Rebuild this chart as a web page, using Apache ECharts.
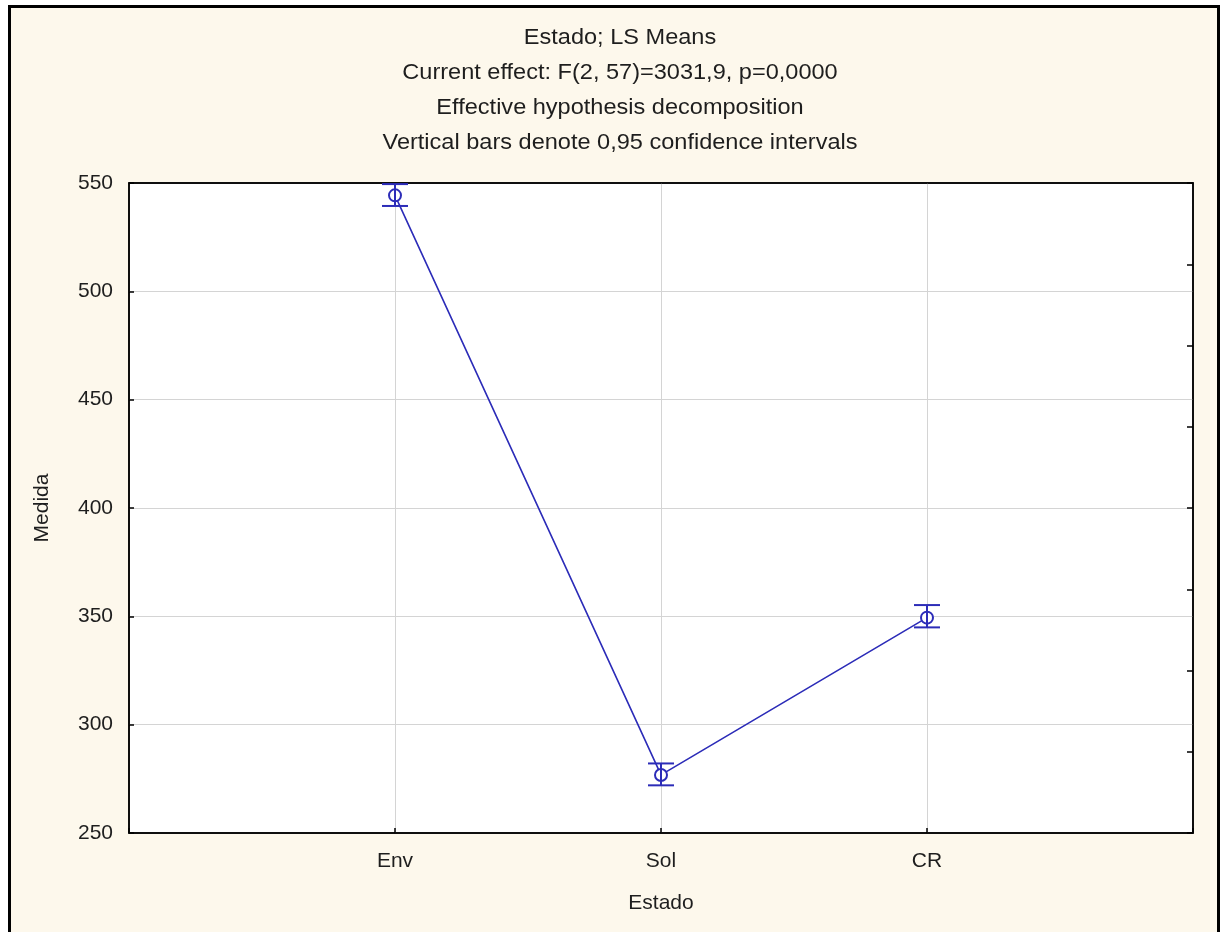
<!DOCTYPE html>
<html>
<head>
<meta charset="utf-8">
<script src="https://cdn.jsdelivr.net/npm/echarts@6/dist/echarts.min.js"></script>
<style>
html,body{margin:0;padding:0;background:#fff;}
#chart{width:1221px;height:932px;}
</style>
</head>
<body>
<div id="chart"></div>
<script>
// Data
const categories = ['Env', 'Sol', 'CR'];
const means = [544.3, 276.8, 349.4];
const lowerCI = [539.4, 272.0, 344.9];
const upperCI = [549.5, 282.1, 355.2];
const titleLines = [
  'Estado; LS Means',
  'Current effect: F(2, 57)=3031,9, p=0,0000',
  'Effective hypothesis decomposition',
  'Vertical bars denote 0,95 confidence intervals'
];
const yTicks = {min: 250, max: 550, interval: 50};

const lineColor = '#2c2cb8';
const textColor = '#1e1e1e';
const fontFam = '"Liberation Sans", Arial, sans-serif';

const chart = echarts.init(document.getElementById('chart'), null, {renderer: 'canvas'});

const meanData = means.map((m, i) => [i + 1, m]);
const ciData = means.map((m, i) => [i + 1, lowerCI[i], upperCI[i]]);

const option = {
  animation: false,
  backgroundColor: 'transparent',
  graphic: [
    {
      type: 'rect', z: -100, silent: true,
      shape: {x: 9.5, y: 6.5, width: 1209, height: 960},
      style: {fill: '#fdf8ec', stroke: '#000', lineWidth: 3}
    },
    {
      type: 'text', z: 10, silent: true,
      x: 620, y: 20, scaleX: 1.07,
      style: {
        text: titleLines.join('\n'),
        fontSize: 22, lineHeight: 35, fontFamily: fontFam,
        fill: textColor, align: 'center', textAlign: 'center'
      }
    }
  ],
  grid: {
    left: 129, right: 28, top: 183, bottom: 99,
    show: true, backgroundColor: '#ffffff', borderColor: '#000', borderWidth: 1.5
  },
  xAxis: [
    {
      type: 'value', min: 0, max: 4, interval: 1, position: 'bottom',
      name: 'Estado', nameLocation: 'middle', nameGap: 60,
      nameTextStyle: {fontSize: 21, color: textColor, fontFamily: fontFam},
      axisLine: {show: true, onZero: false, lineStyle: {color: '#000', width: 1.5}},
      axisTick: {show: true, inside: true, length: 5, lineStyle: {color: '#000', width: 1.5}},
      axisLabel: {
        margin: 18, fontSize: 21, color: textColor, fontFamily: fontFam,
        formatter: v => (v >= 1 && v <= categories.length) ? categories[v - 1] : ''
      },
      splitLine: {show: true, showMinLine: false, showMaxLine: false, lineStyle: {color: '#d4d4d4', width: 1}}
    },
    {
      type: 'value', min: 0, max: 4, position: 'top',
      axisLine: {show: true, onZero: false, lineStyle: {color: '#000', width: 1.5}},
      axisTick: {show: false}, axisLabel: {show: false}, splitLine: {show: false}
    }
  ],
  yAxis: [
    {
      type: 'value', min: yTicks.min, max: yTicks.max, interval: yTicks.interval, position: 'left',
      name: 'Medida', nameLocation: 'middle', nameGap: 76, nameRotate: 90,
      nameTextStyle: {fontSize: 21, color: textColor, fontFamily: fontFam},
      axisLine: {show: true, onZero: false, lineStyle: {color: '#000', width: 1.5}},
      axisTick: {show: true, inside: true, length: 5, lineStyle: {color: '#000', width: 1.5}},
      axisLabel: {margin: 16, fontSize: 21, color: textColor, fontFamily: fontFam},
      splitLine: {show: true, showMinLine: false, showMaxLine: false, lineStyle: {color: '#d4d4d4', width: 1}}
    },
    {
      type: 'value', min: yTicks.min, max: yTicks.max, interval: 37.5, position: 'right',
      axisLine: {show: true, onZero: false, lineStyle: {color: '#000', width: 1.5}},
      axisTick: {show: true, inside: true, length: 6, lineStyle: {color: '#000', width: 1.5}},
      axisLabel: {show: false}, splitLine: {show: false}
    }
  ],
  series: [
    {
      type: 'line', data: meanData, xAxisIndex: 0, yAxisIndex: 0,
      symbol: 'emptyCircle', symbolSize: 12,
      lineStyle: {color: lineColor, width: 1.6},
      itemStyle: {color: lineColor, borderColor: lineColor, borderWidth: 2.2},
      z: 3
    },
    {
      type: 'custom', data: ciData, xAxisIndex: 0, yAxisIndex: 0, z: 4,
      renderItem: function (params, api) {
        const x = api.value(0);
        const lo = api.coord([x, api.value(1)]);
        const hi = api.coord([x, api.value(2)]);
        const hw = 13;
        const st = {stroke: lineColor, lineWidth: 2};
        return {
          type: 'group',
          children: [
            {type: 'line', shape: {x1: lo[0], y1: lo[1], x2: hi[0], y2: hi[1]}, style: st},
            {type: 'line', shape: {x1: hi[0] - hw, y1: hi[1], x2: hi[0] + hw, y2: hi[1]}, style: st},
            {type: 'line', shape: {x1: lo[0] - hw, y1: lo[1], x2: lo[0] + hw, y2: lo[1]}, style: st}
          ]
        };
      }
    }
  ]
};
chart.setOption(option);
</script>
</body>
</html>
